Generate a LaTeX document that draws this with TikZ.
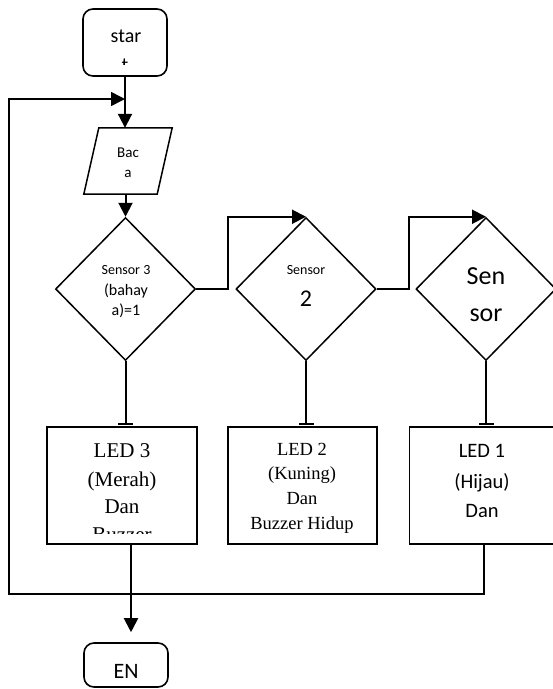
\documentclass[tikz,border=0pt]{standalone}
\usepackage{fontspec}
\setmainfont{Liberation Serif}
\newfontfamily\calfont{Carlito}
\usetikzlibrary{shapes.geometric,arrows.meta}
\begin{document}
\begin{tikzpicture}[x=1pt,y=-1pt,
  box/.style={draw,line width=1.8pt,minimum width=150pt,minimum height=117pt,inner sep=0pt},
  term/.style={draw,line width=1.6pt,rounded corners=10pt,minimum width=84pt,inner sep=0pt},
  dec/.style={draw,diamond,line width=1.5pt,minimum width=140pt,minimum height=143pt,inner sep=0pt},
  iobody/.style={rectangle,minimum width=73pt,minimum height=66pt,inner sep=0pt},
  ioline/.style={line width=1.5pt},
  flow/.style={line width=2pt,-{Triangle[length=14pt,width=14pt]}},
  feed/.style={line width=2pt,-{Bar[width=15pt,line width=2pt]}},
  lbl/.style={inner sep=0pt,anchor=base},
  cal/.style={font=\calfont\fontsize{#1}{#1}\selectfont},
  tms/.style={font=\rmfamily\fontsize{#1}{#1}\selectfont},
]
\useasboundingbox (0,0) rectangle (553,689);
\clip (0,0) rectangle (553,689);

% shapes
\node[term,minimum height=67pt] (start) at (125,42.5) {};
\node[iobody] (baca) at (128,161) {};
\draw[ioline] ([xshift=7.5pt]baca.north west) -- ([xshift=7.5pt]baca.north east)
  -- ([xshift=-7.5pt]baca.south east) -- ([xshift=-7.5pt]baca.south west) -- cycle;
\node[dec] (d1) at (125.5,289) {};
\node[dec] (d2) at (306,289) {};
\node[dec] (d3) at (486,289) {};
\node[box] (led3) at (122,485.5) {};
\node[box,minimum width=149pt] (led2) at (302.5,485.5) {};
\node[box,minimum width=149pt] (led1) at (484,485.5) {};
\node[term,minimum height=44pt] (en) at (126,665) {};

% texts
\node[lbl,cal=20] (startT) at (126,42) {star};
\begin{scope}
  \clip (110,55) rectangle (140,64);
  \node[lbl,cal=20] (startT2) at (125,71) {t};
\end{scope}
\node[lbl,cal=15] (bacaT1) at (128,157) {Bac};
\node[lbl,cal=15] (bacaT2) at (128,177) {a};

\node[lbl,cal=14] (d1T1) at (126,274) {Sensor 3};
\node[lbl,cal=16] (d1T2) at (126,295) {(bahay};
\node[lbl,cal=16] (d1T3) at (126,315) {a)=1};

\node[lbl,cal=14] (d2T1) at (306,274) {Sensor};
\node[lbl,cal=24] (d2T2) at (306,306) {2};

\node[lbl,cal=26] (d3T1) at (486,284) {Sen};
\node[lbl,cal=26] (d3T2) at (486,321) {sor};

\node[lbl,tms=21] (l3T1) at (122,457) {LED 3};
\node[lbl,tms=21] (l3T2) at (122,486.5) {(Merah)};
\node[lbl,tms=21] (l3T3) at (122,513) {Dan};
\begin{scope}
  \clip (60,520) rectangle (190,533.3);
  \node[lbl,tms=21] (l3T4) at (122,541.5) {Buzzer};
\end{scope}

\node[lbl,tms=18.5] (l2T1) at (302,455) {LED 2};
\node[lbl,tms=18.5] (l2T2) at (302,479) {(Kuning)};
\node[lbl,tms=18.5] (l2T3) at (302,504) {Dan};
\node[lbl,tms=18.5] (l2T4) at (302,529) {Buzzer Hidup};

\node[lbl,cal=20.5] (l1T1) at (482,457.5) {LED 1};
\node[lbl,cal=20.5] (l1T2) at (482,488) {(Hijau)};
\node[lbl,cal=20.5] (l1T3) at (482,517.5) {Dan};

\node[lbl,cal=22] (enT) at (126,678) {EN};

% connectors
\coordinate (lowline) at (0,594);
\coordinate (loopL) at (9,594);
\coordinate (merge) at (125,99);

\draw[flow] (start.south) -- (start.south |- baca.north);
\draw[flow] (d1.north |- baca.south) -- (d1.north);
\draw[flow] (d1.east) -- ++(32,0) |- (d2.north);
\draw[flow] (d2.east) -- ++(32,0) |- (d3.north);
\draw[feed,shorten >=1.5pt] (d1.south) -- (d1.south |- led3.north);
\draw[feed,shorten >=1.5pt] (d2.south) -- (d2.south |- led2.north);
\draw[feed,shorten >=1.5pt] (d3.south) -- (d3.south |- led1.north);
\draw[flow,line width=1.6pt] (led1.south) -- (led1.south |- lowline) -- (loopL) |- (merge);
\draw[flow,shorten >=10pt] ([xshift=9pt]led3.south) -- ([xshift=9pt]led3.south |- en.north);
\end{tikzpicture}
\end{document}
